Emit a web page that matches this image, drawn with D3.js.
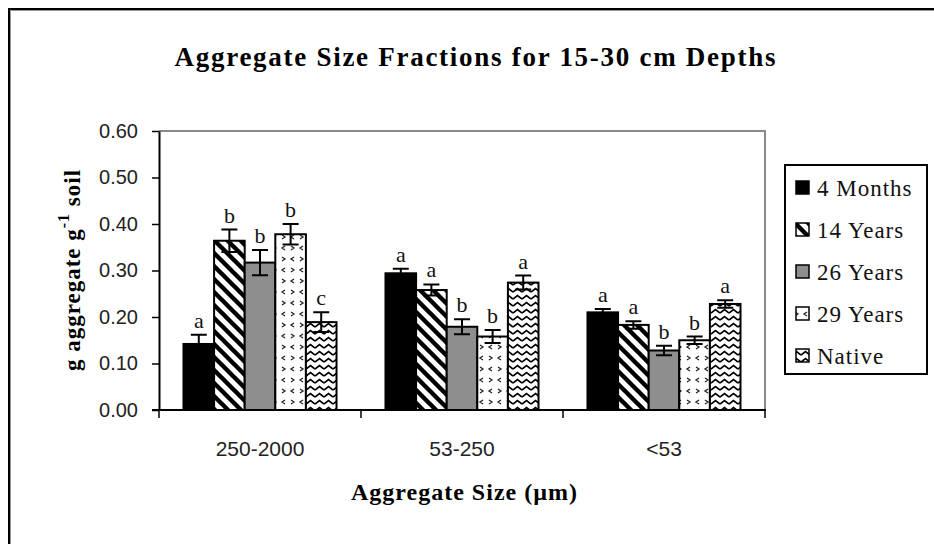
<!DOCTYPE html>
<html>
<head>
<meta charset="utf-8">
<script src="https://cdn.jsdelivr.net/npm/d3@7/dist/d3.min.js"></script>
<style>
  body { margin: 0; background: #fff; }
  svg { display: block; }
  .tick text { font-family: "Liberation Sans", Arial, sans-serif; font-size: 20px; fill: #222; }
  .serif { font-family: "Liberation Serif", "Times New Roman", serif; }
</style>
</head>
<body>
<div id="chart"></div>
<script>
// data
var categories = ["250-2000", "53-250", "<53"];
var series = ["4 Months", "14 Years", "26 Years", "29 Years", "Native"];
var yTicks = [0, 0.1, 0.2, 0.3, 0.4, 0.5, 0.6];

var means = [
  [0.142, 0.294, 0.210],  // 4 Months
  [0.364, 0.258, 0.183],  // 14 Years
  [0.317, 0.179, 0.128],  // 26 Years
  [0.378, 0.158, 0.150],  // 29 Years
  [0.189, 0.274, 0.228]   // Native
];
var errs = [
  [0.020, 0.010, 0.007],
  [0.024, 0.012, 0.008],
  [0.027, 0.016, 0.010],
  [0.022, 0.014, 0.008],
  [0.021, 0.015, 0.008]
];
var letters = [
  ["a", "a", "a"],
  ["b", "a", "a"],
  ["b", "b", "b"],
  ["b", "b", "b"],
  ["c", "a", "a"]
];

var W = 934, H = 544;
var plotL = 159, plotR = 765, plotT = 131, plotB = 410;

var svg = d3.select("#chart").append("svg")
    .attr("width", W)
    .attr("height", H);

svg.append("rect").attr("width", W).attr("height", H).attr("fill", "#fff");

// outer frame (only left/top are visible in the picture)
svg.append("path")
    .attr("d", "M9," + H + " L9,9 L" + W + ",9")
    .attr("stroke", "#000").attr("stroke-width", 2).attr("fill", "none");
svg.append("path")
    .attr("d", "M10.5," + H + " L10.5,10.5 L" + W + ",10.5")
    .attr("stroke", "#999").attr("stroke-width", 1).attr("fill", "none");

// patterns
var defs = svg.append("defs");
var fills = ["#000", "url(#hatch)", "#8e8e8e", "url(#chev)", "url(#zig)"];

var p1 = defs.append("pattern").attr("id", "hatch")
    .attr("patternUnits", "userSpaceOnUse").attr("width", 13).attr("height", 13);
p1.append("rect").attr("width", 13).attr("height", 13).attr("fill", "#fff");
p1.append("path")
    .attr("d", "M-6.5,6.5 L6.5,19.5 M0,0 L13,13 M6.5,-6.5 L19.5,6.5")
    .attr("stroke", "#000").attr("stroke-width", 4.4);

var p2 = defs.append("pattern").attr("id", "chev")
    .attr("patternUnits", "userSpaceOnUse").attr("width", 18).attr("height", 22);
p2.append("rect").attr("width", 18).attr("height", 22).attr("fill", "#fff");
p2.append("path")
    .attr("d", "M3,4 L6,6 L3,8 M15,4 L12,6 L15,8 M6,15 L3,17 L6,19 M12,15 L15,17 L12,19")
    .attr("stroke", "#222").attr("stroke-width", 1.3).attr("fill", "none");

var p3 = defs.append("pattern").attr("id", "zig")
    .attr("patternUnits", "userSpaceOnUse").attr("width", 9).attr("height", 7);
p3.append("rect").attr("width", 9).attr("height", 7).attr("fill", "#fff");
p3.append("path")
    .attr("d", "M0,5 L4.5,1.6 L9,5")
    .attr("stroke", "#000").attr("stroke-width", 1.6).attr("fill", "none");

// scales
var x = d3.scaleBand().domain(categories).range([plotL, plotR]);
var xs = d3.scaleBand().domain(series).range([0, x.bandwidth()]).paddingOuter(0.8);
var y = d3.scaleLinear().domain([0, 0.6]).range([plotB, plotT]);

// plot area frame: grey top and right
svg.append("path")
    .attr("d", "M" + plotL + "," + y(0.6) + " L" + plotR + "," + y(0.6) + " L" + plotR + "," + plotB)
    .attr("stroke", "#8a8a8a").attr("stroke-width", 2).attr("fill", "none");

// bars
series.forEach(function(s, i) {
    var g = svg.append("g");
    categories.forEach(function(c, j) {
        var bx = x(c) + xs(s);
        var bw = xs.bandwidth();
        g.append("rect")
            .attr("x", bx).attr("y", y(means[i][j]))
            .attr("width", bw).attr("height", y(0) - y(means[i][j]))
            .attr("fill", fills[i])
            .attr("stroke", "#000").attr("stroke-width", 2);

        var cx = bx + bw / 2;
        var hi = y(means[i][j] + errs[i][j]), lo = y(means[i][j] - errs[i][j]);
        g.append("path")
            .attr("d", "M" + cx + "," + hi + " L" + cx + "," + lo +
                       " M" + (cx - 8) + "," + hi + " L" + (cx + 8) + "," + hi +
                       " M" + (cx - 8) + "," + lo + " L" + (cx + 8) + "," + lo)
            .attr("stroke", "#000").attr("stroke-width", 2).attr("fill", "none");

        g.append("text")
            .classed("serif", true)
            .attr("x", cx).attr("y", hi - 7)
            .attr("text-anchor", "middle")
            .attr("font-size", 22)
            .attr("fill", "#111")
            .text(letters[i][j]);
    });
});

// y axis
var yAxis = d3.axisLeft(y).tickValues(yTicks).tickFormat(d3.format(".2f"))
    .tickSize(7).tickSizeOuter(0).tickPadding(14);
var ga = svg.append("g").attr("transform", "translate(" + plotL + ",0)").call(yAxis);
ga.select(".domain").attr("stroke-width", 2);
ga.selectAll(".tick line").attr("stroke-width", 1.5);

// x axis: base line, ticks at category boundaries, labels centred
svg.append("line")
    .attr("x1", plotL - 7).attr("x2", plotR + 1).attr("y1", plotB).attr("y2", plotB)
    .attr("stroke", "#000").attr("stroke-width", 2);
var edges = categories.map(function(c) { return x(c); }).concat([x.range()[1]]);
svg.selectAll(".xedge").data(edges).enter().append("line")
    .attr("x1", function(d) { return d; }).attr("x2", function(d) { return d; })
    .attr("y1", plotB).attr("y2", plotB + 8)
    .attr("stroke", "#000").attr("stroke-width", 1.5);
svg.selectAll(".xlab").data(categories).enter().append("text")
    .attr("x", function(d) { return x(d) + x.bandwidth() / 2; })
    .attr("y", 456)
    .attr("text-anchor", "middle")
    .style("font-family", "Liberation Sans, Arial, sans-serif")
    .style("font-size", "21px")
    .attr("fill", "#222")
    .text(function(d) { return d; });

// titles
svg.append("text")
    .classed("serif", true)
    .attr("x", 475).attr("y", 66)
    .attr("text-anchor", "middle")
    .attr("font-size", 27).attr("font-weight", "bold")
    .attr("textLength", 601).attr("lengthAdjust", "spacing")
    .text("Aggregate Size Fractions for 15-30 cm Depths");

svg.append("text")
    .classed("serif", true)
    .attr("x", 464).attr("y", 500)
    .attr("text-anchor", "middle")
    .attr("font-size", 24).attr("font-weight", "bold")
    .attr("textLength", 226).attr("lengthAdjust", "spacing")
    .text("Aggregate Size (\u00b5m)");

var yt = svg.append("text")
    .classed("serif", true)
    .attr("transform", "translate(80,270) rotate(-90)")
    .attr("text-anchor", "middle")
    .attr("font-size", 23).attr("font-weight", "bold")
    .attr("letter-spacing", 1);
yt.append("tspan").text("g aggregate g");
yt.append("tspan").attr("dy", -11).attr("font-size", 16).text("-1");
yt.append("tspan").attr("dy", 11).text(" soil");

// legend
var lg = svg.append("g");
lg.append("rect")
    .attr("x", 785).attr("y", 165).attr("width", 142).attr("height", 209)
    .attr("fill", "#fff").attr("stroke", "#000").attr("stroke-width", 2);
series.forEach(function(s, i) {
    var cy = 188 + i * 42;
    lg.append("rect")
        .attr("x", 796).attr("y", cy - 7).attr("width", 13).attr("height", 13)
        .attr("fill", fills[i]).attr("stroke", "#000").attr("stroke-width", 1.5);
    lg.append("text")
        .classed("serif", true)
        .attr("x", 817).attr("y", cy + 8)
        .attr("font-size", 23)
        .attr("letter-spacing", 1)
        .attr("fill", "#111")
        .text(s);
});
</script>
</body>
</html>
